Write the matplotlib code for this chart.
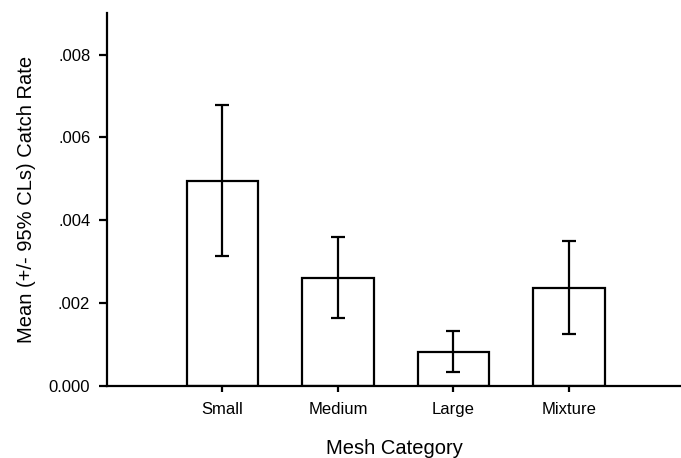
import matplotlib
matplotlib.use('Agg')
import matplotlib.pyplot as plt
from matplotlib.ticker import FuncFormatter

# Mean catch rate per mesh category with 95% confidence limits
categories = ['Small', 'Medium', 'Large', 'Mixture']
means = [0.00495, 0.00261, 0.00082, 0.00236]
upper_cl = [0.00678, 0.00359, 0.00132, 0.00350]
lower_cl = [0.00314, 0.00164, 0.00034, 0.00125]

yticks = [0.0, 0.002, 0.004, 0.006, 0.008]

plt.rcParams['font.family'] = ['Liberation Sans', 'DejaVu Sans']

fig = plt.figure(figsize=(6.81, 4.58), dpi=100)
ax = fig.add_axes([0.157, 0.158, 0.843, 0.813])

x = list(range(1, len(categories) + 1))
err_lo = [m - lo for m, lo in zip(means, lower_cl)]
err_hi = [hi - m for m, hi in zip(means, upper_cl)]

ax.bar(x, means, width=0.62, color='white', edgecolor='black', linewidth=1.6, zorder=2)
ax.errorbar(x, means, yerr=[err_lo, err_hi], fmt='none', ecolor='black',
            elinewidth=1.6, capsize=4.7, capthick=1.6, zorder=3)

ax.set_xlim(0.0, 4.97)
ax.set_ylim(0, 0.009)
ax.set_xticks(x)
ax.set_xticklabels(categories)
ax.set_yticks(yticks)

# SPSS-style labels: 0.000 then .002, .004 ...
def fmt(v, pos):
    if v == 0:
        return '0.000'
    return ('%.3f' % v).lstrip('0')
ax.yaxis.set_major_formatter(FuncFormatter(fmt))

for side in ['top', 'right']:
    ax.spines[side].set_visible(False)
for side in ['left', 'bottom']:
    ax.spines[side].set_linewidth(1.6)

ax.tick_params(axis='y', direction='out', length=5.5, width=1.6, labelsize=12, pad=6.5)
ax.tick_params(axis='x', direction='out', length=4.5, width=1.6, labelsize=12, pad=7)

ax.set_xlabel('Mesh Category', fontsize=14.5, labelpad=16)
ax.set_ylabel('Mean (+/- 95% CLs) Catch Rate', fontsize=14.5, labelpad=9)

fig.savefig('out.png', dpi=100)
